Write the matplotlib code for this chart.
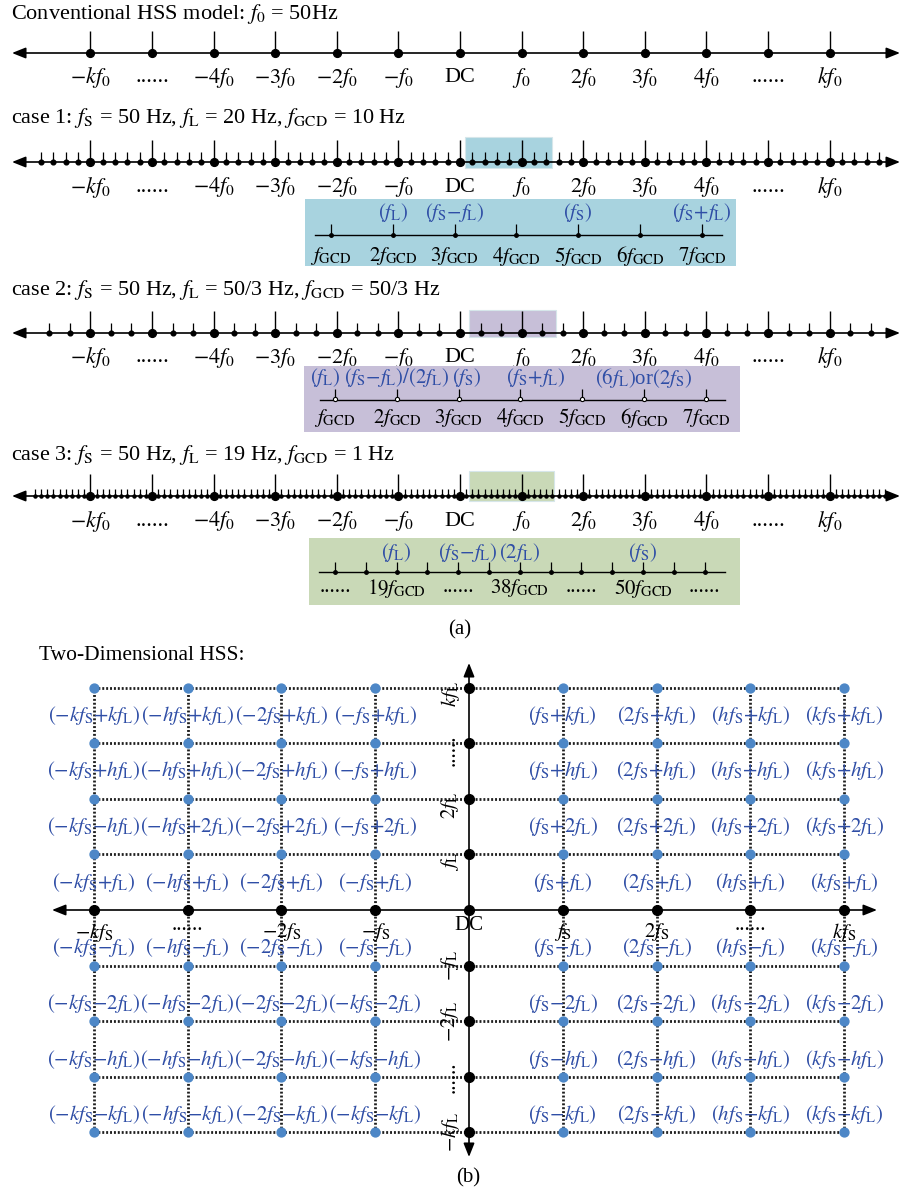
import numpy as np
import matplotlib
matplotlib.use('Agg')
import matplotlib.pyplot as plt
from matplotlib.patches import Rectangle

plt.rcParams['font.family'] = ['Liberation Serif', 'DejaVu Serif']
plt.rcParams['mathtext.fontset'] = 'stix'

W, H = 902, 1192
FS = 15
FS_T = 16
BLUE = '#2f4ea6'
DOT_BLUE = '#4d87c7'

# ---- data --------------------------------------------------------------
harmonics = np.arange(-6, 7)
harm_labels = [r'$-kf_0$', '......', r'$-4f_0$', r'$-3f_0$', r'$-2f_0$', r'$-f_0$', 'DC',
               r'$f_0$', r'$2f_0$', r'$3f_0$', r'$4f_0$', '......', r'$kf_0$']

titles = [r'Conventional HSS model: $f_0$ = 50Hz',
          r'case 1: $f_\mathrm{S}$ = 50 Hz, $f_\mathrm{L}$ = 20 Hz, $f_\mathrm{GCD}$ = 10 Hz',
          r'case 2: $f_\mathrm{S}$ = 50 Hz, $f_\mathrm{L}$ = 50/3 Hz, $f_\mathrm{GCD}$ = 50/3 Hz',
          r'case 3: $f_\mathrm{S}$ = 50 Hz, $f_\mathrm{L}$ = 19 Hz, $f_\mathrm{GCD}$ = 1 Hz']
minor_per_f0 = [None, 5, 3, 10]      # drawn sub-ticks per f0 interval
minor_extent = [None, 6.8, 6.67, 6.9]
case_colors = ['#a8d3df', '#c7bfd8', '#c9d9b7']

gcd_multiples = np.arange(1, 8)
gcd_labels = [r'$f_\mathrm{GCD}$'] + [r'$%df_\mathrm{GCD}$' % n for n in range(2, 8)]
case1_blue = {2: r'$(f_\mathrm{L})$', 3: r'$(f_\mathrm{S}{-}f_\mathrm{L})$',
              5: r'$(f_\mathrm{S})$', 7: r'$(f_\mathrm{S}{+}f_\mathrm{L})$'}
case3_ticks = np.arange(0, 13)
case3_labels = {0: '......', 2: r'$19f_\mathrm{GCD}$', 4: '......', 6: r'$38f_\mathrm{GCD}$',
                8: '......', 10: r'$50f_\mathrm{GCD}$', 12: '......'}

grid_cols = np.array([-4, -3, -2, -1, 1, 2, 3, 4])
grid_rows = np.array([4, 3, 2, 1, -1, -2, -3, -4])
col_labels = [r'$-kf_\mathrm{S}$', '......', r'$-2f_\mathrm{S}$', r'$-f_\mathrm{S}$',
              r'$f_\mathrm{S}$', r'$2f_\mathrm{S}$', '......', r'$kf_\mathrm{S}$']
row_labels = [r'$kf_\mathrm{L}$', '......', r'$2f_\mathrm{L}$', r'$f_\mathrm{L}$',
              r'$-f_\mathrm{L}$', r'$-2f_\mathrm{L}$', '......', r'$-kf_\mathrm{L}$']
cells = [
    ['-k+k', '-h+k', '-2+k', '-1+k', '1+k', '2+k', 'h+k', 'k+k'],
    ['-k+h', '-h+h', '-2+h', '-1+h', '1+h', '2+h', 'h+h', 'k+h'],
    ['-k-h', '-h+2', '-2+2', '-1+2', '1+2', '2+2', 'h+2', 'k+2'],
    ['-k+1', '-h+1', '-2+1', '-1+1', '1+1', '2+1', 'h+1', 'k+1'],
    ['-k-1', '-h-1', '-2-1', '-1-1', '1-1', '2-1', 'h-1', 'k-1'],
    ['-k-2', '-h-2', '-2-2', '-k-2', '1-2', '2-2', 'h-2', 'k-2'],
    ['-k-h', '-h-h', '-2-h', '-k-h', '1-h', '2-h', 'h-h', 'k-h'],
    ['-k-k', '-h-k', '-2-k', '-k-k', '1-k', '2-k', 'h-k', 'k-k'],
]


def term(coef, sub):
    sign = '-' if coef.startswith('-') else ''
    c = coef.lstrip('+-')
    c = '' if c == '1' else c
    return sign + c + r'f_\mathrm{' + sub + '}'


def cell_text(code):
    i = max(code.rfind('+'), code.rfind('-'))
    s, op, l = code[:i], code[i], code[i + 1:]
    return '$(' + term(s, 'S') + '{' + op + '}' + term(l, 'L') + ')$'


# ---- helpers -----------------------------------------------------------
fig = plt.figure(figsize=(W / 100, H / 100), dpi=100)


def px_axes(x0, y0, x1, y1, fc='none'):
    ax = fig.add_axes([x0 / W, 1 - y1 / H, (x1 - x0) / W, (y1 - y0) / H])
    ax.set_facecolor(fc)
    for s in ax.spines.values():
        s.set_visible(False)
    ax.set_xticks([])
    ax.set_yticks([])
    return ax


def ftext(x, y, s, **kw):
    kw.setdefault('fontsize', FS)
    fig.text(x / W, 1 - y / H, s, **kw)


def arrow(ax, p0, p1, style='<|-|>'):
    ax.annotate('', xy=p1, xytext=p0,
                arrowprops=dict(arrowstyle=style + ',head_length=0.55,head_width=0.22',
                                lw=1.2, color='k', shrinkA=0, shrinkB=0, mutation_scale=15))


STEP, X_DC = 61.6, 460
strip_y = [53, 162, 333, 496]
title_y = [14, 118, 290, 455]
highlight = [None, (0.08, 1.49, -25, 6), (0.15, 1.56, -23, 4), (0.15, 1.53, -25, 5)]

for i, yl in enumerate(strip_y):
    ftext(11, title_y[i], titles[i], va='center', fontsize=FS_T)
    ax = px_axes(0, yl - 40, W, yl + 40)
    ax.set_xlim(-X_DC / STEP, (W - X_DC) / STEP)
    ax.set_ylim(40, -40)
    arrow(ax, ((12 - X_DC) / STEP, 0), ((900 - X_DC) / STEP, 0))
    if highlight[i]:
        a, b, c, d = highlight[i]
        ax.add_patch(Rectangle((a, c), b - a, d - c, fc=case_colors[i - 1], ec='#d6e6ea',
                               lw=0.8, zorder=0))
    if minor_per_f0[i]:
        m = minor_per_f0[i]
        e = minor_extent[i]
        pos = np.arange(-int(round(e * m)), int(round(e * m)) + 1)
        pos = pos[pos % m != 0] / m
        h = 10 if m < 10 else 7
        ax.vlines(pos, -h, 0, lw=0.9, color='k')
        ax.plot(pos, np.zeros_like(pos), 'o', ms=3.4 if m < 10 else 2.2, color='k')
    ax.vlines(harmonics, -22, 0, lw=1.0, color='k')
    ax.plot(harmonics, np.zeros_like(harmonics), 'o', ms=5.6, color='k')
    for n, lab in zip(harmonics, harm_labels):
        ax.text(n, 25, lab, ha='center', va='center', fontsize=FS_T)


def box_axes(x0, y0, x1, y1, x_first, step, y_line, color):
    ax = px_axes(x0, y0, x1, y1, fc=color)
    ax.set_xlim((x0 - x_first) / step, (x1 - x_first) / step)
    ax.set_ylim(y1 - y_line, y0 - y_line)
    return ax


# case 1 box
ax = box_axes(305, 199, 736, 266, 331, 61.8, 235, case_colors[0])
ax.plot([-0.26, 6.33], [0, 0], color='k', lw=1.0)
ax.vlines(gcd_multiples - 1, -11, 0, lw=0.9, color='k')
ax.plot(gcd_multiples - 1, 0 * gcd_multiples, 'o', ms=2.5, color='k')
for n, lab in zip(gcd_multiples, gcd_labels):
    ax.text(n - 1, 21, lab, ha='center', va='center', fontsize=FS)
for n, lab in case1_blue.items():
    ax.text(n - 1, -22, lab, ha='center', va='center', fontsize=FS, color=BLUE)

# case 2 box
ax = box_axes(304, 366, 740, 432, 335, 61.8, 400, case_colors[1])
ax.plot([-0.24, 6.31], [0, 0], color='k', lw=1.0)
ax.vlines(gcd_multiples - 1, -11, -2, lw=0.9, color='k')
ax.plot(gcd_multiples - 1, 0 * gcd_multiples - 1, 'o', ms=3, mfc='white', mec='k', mew=0.8)
for n, lab in zip(gcd_multiples, gcd_labels):
    ax.text(n - 1, 18, lab, ha='center', va='center', fontsize=FS)
ax.text(0.09, -22, r'$(f_\mathrm{L})$', ha='right', va='center', fontsize=FS, color=BLUE)
ax.text(1.0, -22, r'$(f_\mathrm{S}{-}f_\mathrm{L})/(2f_\mathrm{L})$', ha='center', va='center',
        fontsize=FS, color=BLUE)
ax.text(1.89, -22, r'$(f_\mathrm{S})$', ha='left', va='center', fontsize=FS, color=BLUE)
ax.text(3.25, -22, r'$(f_\mathrm{S}{+}f_\mathrm{L})$', ha='center', va='center', fontsize=FS,
        color=BLUE)
ax.text(5.0, -22, r'$(6f_\mathrm{L})$or$(2f_\mathrm{S})$', ha='center', va='center', fontsize=FS,
        color=BLUE)

# case 3 box
ax = box_axes(309, 538, 740, 605, 335, 30.8, 572, case_colors[2])
ax.plot([-0.52, 12.66], [0, 0], color='k', lw=1.0)
ax.vlines(case3_ticks, -10, 0, lw=0.9, color='k')
ax.plot(case3_ticks, 0 * case3_ticks, 'o', ms=2.5, color='k')
for n, lab in case3_labels.items():
    ax.text(n, 16, lab, ha='center', va='center', fontsize=FS)
ax.text(2, -20, r'$(f_\mathrm{L})$', ha='center', va='center', fontsize=FS, color=BLUE)
ax.text(4.3, -20, r'$(f_\mathrm{S}{-}f_\mathrm{L})$', ha='center', va='center', fontsize=FS,
        color=BLUE)
ax.text(6, -20, r'$(2f_\mathrm{L})$', ha='center', va='center', fontsize=FS, color=BLUE)
ax.text(10, -20, r'$(f_\mathrm{S})$', ha='center', va='center', fontsize=FS, color=BLUE)

ftext(460, 630, '(a)', ha='center', va='center')

# ---- (b) two-dimensional HSS ---------------------------------------------
ftext(39, 656, 'Two-Dimensional HSS:', va='center', fontsize=15.5)
X0, DX, Y0, DY = 469, 93.8, 910, 55.6
ax2 = px_axes(0, 640, W, 1170)
ax2.set_xlim(-X0 / DX, (W - X0) / DX)
ax2.set_ylim((Y0 - 1170) / DY, (Y0 - 640) / DY)

dotted = dict(ls=(0, (0.7, 0.7)), lw=2.0, color='#1e1e1e', zorder=1)
for k in grid_rows:
    ax2.plot([grid_cols.min(), grid_cols.max()], [k, k], **dotted)
for m in grid_cols:
    ax2.plot([m, m], [grid_rows.min(), grid_rows.max()], **dotted)

arrow(ax2, ((52 - X0) / DX, 0), ((877 - X0) / DX, 0))
arrow(ax2, (0, (Y0 - 1157) / DY), (0, (Y0 - 663) / DY))

mm, kk = np.meshgrid(grid_cols, grid_rows)
ax2.plot(mm.ravel(), kk.ravel(), 'o', ms=6.4, color=DOT_BLUE, zorder=3)
ax2.plot(grid_cols, 0 * grid_cols, 'o', ms=7, color='k', zorder=3)
ax2.plot(0 * grid_rows, grid_rows, 'o', ms=7, color='k', zorder=3)
ax2.plot([0], [0], 'o', ms=7, color='k', zorder=3)

for m, lab in zip(grid_cols, col_labels):
    ax2.text(m, -0.27 if lab.startswith('.') else -0.4, lab, ha='center', va='center', fontsize=FS)
ax2.text(0, -0.27, 'DC', ha='center', va='center', fontsize=FS)
for k, lab in zip(grid_rows, row_labels):
    ax2.text(-0.2, k - (0.12 if k > 0 else 0), lab, ha='center', va='center', rotation=90,
             fontsize=FS)

for r, k in enumerate(grid_rows):
    yk = k - 0.5 if k > 0 else k + 0.32
    for c, m in enumerate(grid_cols):
        ax2.text(m, yk, cell_text(cells[r][c]), ha='center', va='center', fontsize=FS,
                 color=BLUE, zorder=4)

ftext(468, 1178, '(b)', ha='center', va='center')

fig.savefig('out.png', dpi=100)
